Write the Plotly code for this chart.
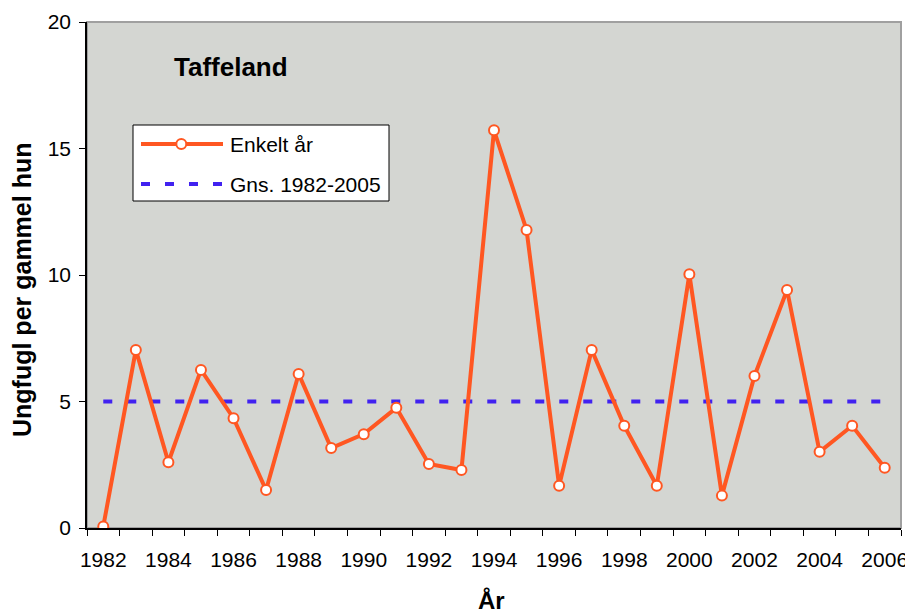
import plotly.graph_objects as go

# ---- data ----
years = [1982, 1983, 1984, 1985, 1986, 1987, 1988, 1989, 1990, 1991, 1992, 1993,
         1994, 1995, 1996, 1997, 1998, 1999, 2000, 2001, 2002, 2003, 2004, 2005, 2006]
ungfugl = [0.06, 7.04, 2.60, 6.25, 4.34, 1.50, 6.09, 3.16, 3.71, 4.75, 2.53, 2.29,
           15.72, 11.78, 1.67, 7.04, 4.04, 1.67, 10.03, 1.28, 6.01, 9.41, 3.01, 4.04, 2.38]
mean_value = 5.0
x_tick_labels = ["1982", "1984", "1986", "1988", "1990", "1992", "1994", "1996",
                 "1998", "2000", "2002", "2004", "2006"]
y_ticks = [0, 5, 10, 15, 20]
series_names = ["Enkelt år", "Gns. 1982-2005"]
chart_title = "Taffeland"
x_title = "År"
y_title = "Ungfugl per gammel hun"

ORANGE = "#FF5722"
BLUE = "#4122F0"
FONT = "Liberation Sans, Arial, sans-serif"

OFF = 8  # page body margin in the browser
W, H = 913 - OFF, 614 - OFF
# plot area in page pixels: x 87..901, y 22..528
ML, MR, MT = 87 - OFF, 913 - 901, 22 - OFF
MB = (H + OFF) - 528
PW, PH = W - ML - MR, H - MT - MB


def px(x):  # page pixel -> paper
    return (x - OFF - ML) / PW


def py(y):
    return (MT + PH - (y - OFF)) / PH


fig = go.Figure()
fig.add_trace(go.Scatter(
    x=years, y=[mean_value] * len(years), mode="lines", name=series_names[1],
    line=dict(color=BLUE, width=4, dash="9px,15px"), showlegend=False,
    hoverinfo="skip"))
fig.add_trace(go.Scatter(
    x=years, y=ungfugl, mode="lines+markers", name=series_names[0],
    line=dict(color=ORANGE, width=4),
    marker=dict(symbol="circle", size=10, color="white",
                line=dict(color=ORANGE, width=2)),
    showlegend=False))

shapes = [
    dict(type="rect", xref="paper", yref="paper", x0=0, x1=1, y0=0, y1=1,
         line=dict(color="#A0A0A0", width=2), layer="below"),
    dict(type="rect", xref="paper", yref="paper", x0=px(133), x1=px(389),
         y0=py(201), y1=py(125), fillcolor="white",
         line=dict(color="black", width=1)),
    dict(type="line", xref="paper", yref="paper", x0=px(141), x1=px(223),
         y0=py(144), y1=py(144), line=dict(color=ORANGE, width=4)),
    dict(type="circle", xref="paper", yref="paper", x0=px(176.3), x1=px(186.3),
         y0=py(149), y1=py(139), fillcolor="white",
         line=dict(color=ORANGE, width=2)),
    dict(type="line", xref="paper", yref="paper", x0=px(141), x1=px(223),
         y0=py(184), y1=py(184), line=dict(color=BLUE, width=4, dash="9px,15px")),
]

annotations = [
    dict(text="<b>" + chart_title + "</b>", xref="paper", yref="paper",
         x=px(231), y=py(67), xanchor="center", yanchor="middle", showarrow=False,
         font=dict(family=FONT, size=26, color="black")),
    dict(text=series_names[0], xref="paper", yref="paper", x=px(228), y=py(144),
         xanchor="left", yanchor="middle", showarrow=False,
         font=dict(family=FONT, size=21, color="black")),
    dict(text=series_names[1], xref="paper", yref="paper", x=px(228), y=py(184),
         xanchor="left", yanchor="middle", showarrow=False,
         font=dict(family=FONT, size=21, color="black")),
    dict(text="<b>" + y_title + "</b>", xref="paper", yref="paper",
         x=px(22), y=py(290), xanchor="center", yanchor="middle", textangle=-90,
         showarrow=False, font=dict(family=FONT, size=25, color="black")),
    dict(text="<b>" + x_title + "</b>", xref="paper", yref="paper",
         x=px(491), y=py(600), xanchor="center", yanchor="middle",
         showarrow=False, font=dict(family=FONT, size=24, color="black")),
]

fig.update_layout(
    width=W, height=H,
    margin=dict(l=ML, r=MR, t=MT, b=MB, pad=0, autoexpand=False),
    paper_bgcolor="white", plot_bgcolor="#D4D6D2",
    font=dict(family=FONT, size=21, color="black"),
    showlegend=False,
    shapes=shapes, annotations=annotations,
    xaxis=dict(
        range=[years[0] - 0.5, years[-1] + 0.5],
        tickvals=[int(t) for t in x_tick_labels], ticktext=x_tick_labels,
        ticks="", ticklabelstandoff=12,
        minor=dict(tickvals=[y - 0.5 for y in years] + [years[-1] + 0.5],
                   ticks="outside", ticklen=6, tickcolor="black", tickwidth=1),
        showgrid=False, zeroline=False,
        showline=True, linecolor="black", linewidth=1.5,
        tickfont=dict(size=21),
    ),
    yaxis=dict(
        range=[0, 20], tickvals=y_ticks,
        ticks="outside", ticklen=6, tickcolor="black", tickwidth=1,
        ticklabelstandoff=4,
        showgrid=False, zeroline=False,
        showline=True, linecolor="black", linewidth=1.5,
        tickfont=dict(size=21),
    ),
)

fig.write_html("out.html")
